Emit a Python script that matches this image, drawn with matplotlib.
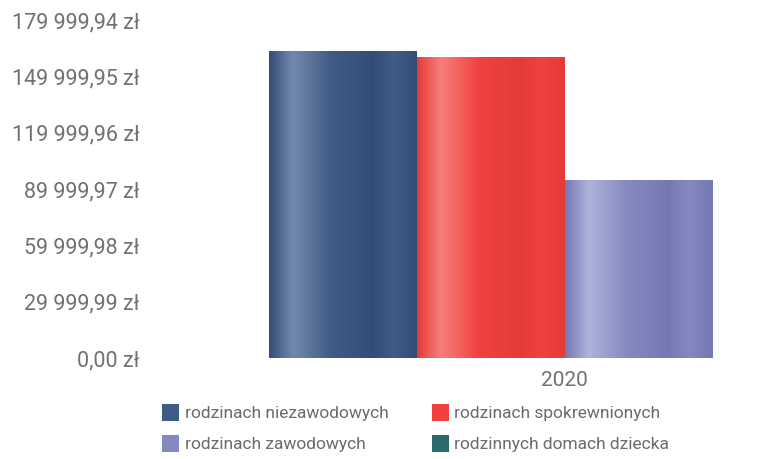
import numpy as np
import matplotlib
matplotlib.use('Agg')
import matplotlib.pyplot as plt
from matplotlib.colors import LinearSegmentedColormap
from matplotlib.patches import Patch

# dane
years = ['2020']
series = ['rodzinach niezawodowych', 'rodzinach spokrewnionych',
          'rodzinach zawodowych', 'rodzinnych domach dziecka']
values = [163500, 160300, 94800, 0]
yticks = [0, 29999.99, 59999.98, 89999.97, 119999.96, 149999.95, 179999.94]

# kolory: (bazowy, ciemny, jasny)
colors = ['#3f5c86', '#f0413f', '#8489c0', '#2b6b6b']
darks = ['#324e78', '#e43b37', '#7479b3', '#1f5858']
lights = ['#7488ae', '#f77e7c', '#b0b3da', '#4f8a8a']

plt.rcParams['font.family'] = ['Roboto', 'DejaVu Sans']
TEXT_COLOR = '#707075'

W, H = 779, 459
fig = plt.figure(figsize=(W / 100, H / 100), dpi=100)
ax = fig.add_axes([180 / W, (H - 358) / H, 751 / W, 338 / H])

width = 0.2
n = len(series)
offsets = (np.arange(n) - (n - 1) / 2) * width
bars = []
for i in range(n):
    b = ax.bar(0 + offsets[i], values[i], width, color=colors[i], zorder=2)
    bars.append(b[0])

# cieniowanie "walcowe" słupków
for i, bar in enumerate(bars):
    h = bar.get_height()
    if h <= 0:
        continue
    x0, w = bar.get_x(), bar.get_width()
    cmap = LinearSegmentedColormap.from_list(
        'c%d' % i, [(0, darks[i]), (0.16, lights[i]), (0.42, colors[i]),
                    (0.7, darks[i]), (0.84, colors[i]), (1, darks[i])])
    im = ax.imshow(np.linspace(0, 1, 256)[None, :], cmap=cmap,
                   extent=[x0, x0 + w, 0, h], aspect='auto', zorder=3)
    im.set_clip_path(bar)

ax.set_xlim(-0.52, 0.495)
ax.set_ylim(0, yticks[-1])
ax.set_xticks([0])
ax.set_xticklabels(years)
ax.set_yticks(yticks)
ax.set_yticklabels([('%s zł' % format(v, ',.2f')).replace(',', ' ').replace('.', ',')
                    for v in yticks])
ax.tick_params(axis='y', length=0, pad=29, labelsize=15.5, colors=TEXT_COLOR)
ax.tick_params(axis='x', length=0, pad=9, labelsize=15, colors=TEXT_COLOR)
for s in ax.spines.values():
    s.set_visible(False)

order = [0, 2, 1, 3]
handles = [Patch(facecolor=colors[i], label=series[i]) for i in order]
leg = fig.legend(handles=handles, ncol=2, frameon=False,
                 loc='upper left', bbox_to_anchor=(162 / W, 1 - 404 / H),
                 fontsize=12.5, handlelength=1.0, handleheight=1.15,
                 handletextpad=0.3, labelspacing=0.75, columnspacing=2.5,
                 borderaxespad=0, borderpad=0)
for t in leg.get_texts():
    t.set_color('#6a6a70')

fig.savefig('out.png', dpi=100)
